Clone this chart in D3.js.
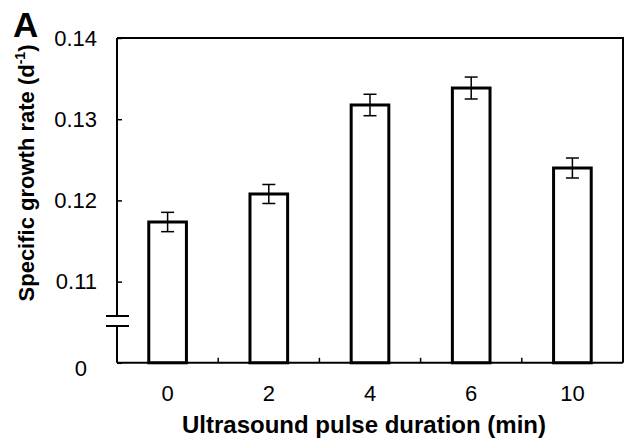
<!DOCTYPE html>
<html>
<head>
<meta charset="utf-8">
<script src="https://cdn.jsdelivr.net/npm/d3@7"></script>
<style>
  html, body { margin: 0; padding: 0; background: #fff; }
  svg { display: block; font-family: Arial, "Liberation Sans", sans-serif; }
</style>
</head>
<body>
<svg id="chart" width="626" height="440"></svg>
<script>
const categories = ["0", "2", "4", "6", "10"];
const values = [0.11734, 0.12079, 0.13175, 0.13384, 0.12399];
const errors = [0.00119, 0.00117, 0.00132, 0.00135, 0.00123];
const yTickValues = [0.10, 0.11, 0.12, 0.13, 0.14];
const yTickLabels = ["0", "0.11", "0.12", "0.13", "0.14"];

(function () {
const svg = d3.select("#chart");
const pLeft = 117, pRight = 623, pTop = 38, pBottom = 362.8;

const x = d3.scaleBand().domain(categories).range([pLeft, pRight]).padding(0);
const y = d3.scaleLinear().domain([0.10, 0.14]).range([pBottom, pTop]);

const barW = x.bandwidth() * 0.372;

// frame (top and right)
svg.append("path")
  .attr("d", `M${pLeft},${pTop}H${pRight}V${pBottom}`)
  .attr("fill", "none").attr("stroke", "#000").attr("stroke-width", 2);

// bars
svg.append("g").selectAll("rect").data(categories).join("rect")
  .attr("x", d => x(d) + x.bandwidth() / 2 - barW / 2)
  .attr("y", (d, i) => y(values[i]))
  .attr("width", barW)
  .attr("height", (d, i) => pBottom - y(values[i]))
  .attr("fill", "#fff").attr("stroke", "#000").attr("stroke-width", 3);

// error bars
const capW = 13;
const eg = svg.append("g").attr("stroke", "#000").attr("stroke-width", 1.5);
categories.forEach((c, i) => {
  const cx = x(c) + x.bandwidth() / 2;
  const y1 = y(values[i] + errors[i]), y2 = y(values[i] - errors[i]);
  eg.append("line").attr("x1", cx).attr("x2", cx).attr("y1", y1).attr("y2", y2);
  eg.append("line").attr("x1", cx - capW / 2).attr("x2", cx + capW / 2).attr("y1", y1).attr("y2", y1);
  eg.append("line").attr("x1", cx - capW / 2).attr("x2", cx + capW / 2).attr("y1", y2).attr("y2", y2);
});

// y axis
const yAxis = d3.axisLeft(y).tickValues(yTickValues)
  .tickFormat((d, i) => yTickLabels[i]).tickSize(-5).tickPadding(20);
const gy = svg.append("g").attr("transform", `translate(${pLeft},0)`).call(yAxis);
gy.select(".domain").attr("stroke-width", 2).attr("d", `M0,${pTop}V${pBottom}`);
gy.selectAll(".tick line").attr("stroke-width", 1.5);
gy.selectAll(".tick text").attr("font-size", 22).attr("fill", "#000")
  .attr("font-family", "Arial, 'Liberation Sans', sans-serif");
gy.selectAll(".tick").filter(d => d === 0.10).select("text")
  .attr("dx", -10).attr("dy", "0.58em");

// axis break
const breakTop = 316, breakBot = 326;
svg.append("rect").attr("x", pLeft - 3).attr("y", breakTop).attr("width", 6)
  .attr("height", breakBot - breakTop).attr("fill", "#fff");
[breakTop, breakBot].forEach(by => {
  svg.append("line").attr("x1", 106).attr("x2", 129).attr("y1", by).attr("y2", by)
    .attr("stroke", "#000").attr("stroke-width", 2);
});

// x axis
const xAxis = d3.axisBottom(x).tickSize(0).tickPadding(23);
const gx = svg.append("g").attr("transform", `translate(0,${pBottom})`).call(xAxis);
gx.select(".domain").attr("stroke-width", 2).attr("d", `M${pLeft},0H${pRight}`);
gx.selectAll(".tick text").attr("font-size", 22).attr("fill", "#000")
  .attr("font-family", "Arial, 'Liberation Sans', sans-serif");

// inner boundary ticks on x axis
svg.append("g").selectAll("line").data(categories.slice(1)).join("line")
  .attr("x1", d => x(d)).attr("x2", d => x(d))
  .attr("y1", pBottom).attr("y2", pBottom - 5)
  .attr("stroke", "#000").attr("stroke-width", 1.5);

// axis titles
svg.append("text").attr("x", 364).attr("y", 433)
  .attr("text-anchor", "middle").attr("font-weight", "bold").attr("font-size", 24)
  .text("Ultrasound pulse duration (min)");

const yt = svg.append("text")
  .attr("transform", "translate(34,173) rotate(-90)")
  .attr("text-anchor", "middle").attr("font-weight", "bold").attr("font-size", 22);
yt.append("tspan").text("Specific growth rate (d");
yt.append("tspan").attr("font-size", 14).attr("dy", -9).text("-1");
yt.append("tspan").attr("dy", 9).text(")");

// panel label
svg.append("text").attr("x", 13).attr("y", 37)
  .attr("font-weight", "bold").attr("font-size", 35).text("A");
})();
</script>
</body>
</html>
